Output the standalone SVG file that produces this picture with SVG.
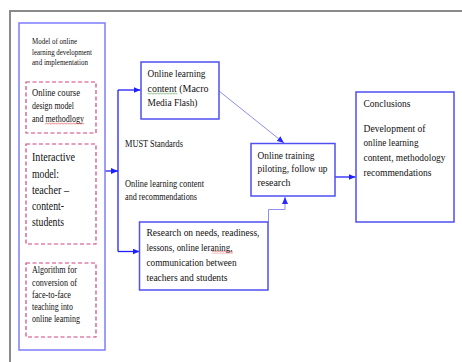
<svg xmlns="http://www.w3.org/2000/svg" width="462" height="362" viewBox="0 0 462 362">
  <style>
    text { font-family: "Liberation Serif", "Times New Roman", serif; fill: #111; }
    .box { fill: #fff; stroke: #4f4ff2; stroke-width: 1.5; }
    .panel { fill: #fff; stroke: #7d7dff; stroke-width: 1.5; }
    .dash { fill: none; stroke: #d0457f; stroke-width: 1.2; stroke-dasharray: 4 2.5; }
    .link { fill: none; stroke: #1f1fff; stroke-width: 1.3; }
    .soft { fill: none; stroke: #8f8ff2; stroke-width: 1; }
    .s8 { font-size: 8.5px; }
    .s9 { font-size: 9.5px; }
    .s10 { font-size: 10.5px; }
    .s11 { font-size: 11px; }
    .s12 { font-size: 12px; }
  </style>
  <defs>
    <marker id="arrow" markerUnits="userSpaceOnUse" markerWidth="7" markerHeight="6" refX="7" refY="3" orient="auto">
      <path d="M0,0 L7,3 L0,6 z" fill="#1f1fff"/>
    </marker>
    <marker id="arrowSoft" markerUnits="userSpaceOnUse" markerWidth="7" markerHeight="6" refX="7" refY="3" orient="auto">
      <path d="M0,0 L7,3 L0,6 z" fill="#2a2aff"/>
    </marker>
    <pattern id="wavyRed" width="3" height="2.5" patternUnits="userSpaceOnUse">
      <path d="M0,2 L1.5,0.5 L3,2" fill="none" stroke="#e03030" stroke-width="0.7"/>
    </pattern>
    <pattern id="wavyGreen" width="3" height="2.5" patternUnits="userSpaceOnUse">
      <path d="M0,2 L1.5,0.5 L3,2" fill="none" stroke="#3a9a3a" stroke-width="0.7"/>
    </pattern>
  </defs>

  <rect width="462" height="362" fill="#fff"/>
  <!-- page frame -->
  <path d="M10,362 V11 H462" fill="none" stroke="#8a8a8a" stroke-width="2"/>

  <!-- connectors -->
  <g id="connectors">
    <path class="link" d="M105,171 H118" marker-end="url(#arrow)"/>
    <path class="link" d="M118,90 V251.5"/>
    <path class="link" d="M118,90 H140.5" marker-end="url(#arrow)"/>
    <path class="link" d="M118,251.5 H139.5" marker-end="url(#arrow)"/>
    <path class="soft" d="M219,91 L284,143" marker-end="url(#arrowSoft)"/>
    <path class="soft" d="M268.5,222 V209.5 H285 V197" marker-end="url(#arrowSoft)"/>
    <path class="link" d="M335,177 H355.5" marker-end="url(#arrow)"/>
  </g>

  <!-- left panel: model of online learning -->
  <g id="model-panel">
    <rect class="panel" x="19" y="23" width="86" height="327"/>
    <text class="s8" x="32" y="44" textLength="45" lengthAdjust="spacingAndGlyphs">Model of online</text>
    <text class="s8" x="32" y="54.5" textLength="60" lengthAdjust="spacingAndGlyphs">learning development</text>
    <text class="s8" x="32" y="65" textLength="56" lengthAdjust="spacingAndGlyphs">and implementation</text>
  </g>

  <g id="course-design">
    <rect class="dash" x="26" y="82" width="70" height="51"/>
    <text class="s10" x="32" y="96" textLength="48" lengthAdjust="spacingAndGlyphs">Online course</text>
    <text class="s10" x="32" y="109" textLength="42" lengthAdjust="spacingAndGlyphs">design model</text>
    <text class="s10" x="32" y="122" textLength="52" lengthAdjust="spacingAndGlyphs">and methodlogy</text>
    <rect x="45" y="122.5" width="39" height="2.5" fill="url(#wavyRed)"/>
  </g>

  <g id="interactive-model">
    <rect class="dash" x="26" y="144" width="70" height="100"/>
    <text class="s12" x="32" y="161" textLength="43" lengthAdjust="spacingAndGlyphs">Interactive</text>
    <text class="s12" x="32" y="177.5" textLength="27" lengthAdjust="spacingAndGlyphs">model:</text>
    <text class="s12" x="32" y="193.5" textLength="37" lengthAdjust="spacingAndGlyphs">teacher –</text>
    <text class="s12" x="32" y="209.5" textLength="32" lengthAdjust="spacingAndGlyphs">content-</text>
    <text class="s12" x="32" y="225.5" textLength="32" lengthAdjust="spacingAndGlyphs">students</text>
  </g>

  <g id="algorithm">
    <rect class="dash" x="26" y="263" width="70" height="74"/>
    <text class="s9" x="32" y="273" textLength="45" lengthAdjust="spacingAndGlyphs">Algorithm for</text>
    <text class="s9" x="32" y="285.5" textLength="45" lengthAdjust="spacingAndGlyphs">conversion of</text>
    <text class="s9" x="32" y="297.5" textLength="39" lengthAdjust="spacingAndGlyphs">face-to-face</text>
    <text class="s9" x="32" y="309.5" textLength="41" lengthAdjust="spacingAndGlyphs">teaching into</text>
    <text class="s9" x="32" y="322" textLength="48" lengthAdjust="spacingAndGlyphs">online learning</text>
  </g>

  <!-- labels on the branch -->
  <g id="branch-labels">
    <text class="s9" x="125" y="147" textLength="58" lengthAdjust="spacingAndGlyphs">MUST Standards</text>
    <text class="s9" x="125" y="187" textLength="79" lengthAdjust="spacingAndGlyphs">Online learning  content</text>
    <text class="s9" x="125" y="199.5" textLength="72" lengthAdjust="spacingAndGlyphs">and recommendations</text>
  </g>

  <g id="online-content">
    <rect class="box" x="141" y="62" width="78" height="57"/>
    <text class="s11" x="147.5" y="77" textLength="58" lengthAdjust="spacingAndGlyphs">Online learning</text>
    <text class="s11" x="147.5" y="91.5" textLength="61" lengthAdjust="spacingAndGlyphs">content  (Macro</text>
    <text class="s11" x="147.5" y="105.5" textLength="50" lengthAdjust="spacingAndGlyphs">Media Flash)</text>
    <rect x="147.5" y="92.5" width="30" height="2.5" fill="url(#wavyGreen)"/>
  </g>

  <g id="research">
    <rect class="box" x="139.5" y="222" width="128.5" height="68"/>
    <text class="s11" x="146.5" y="235.5" textLength="113" lengthAdjust="spacingAndGlyphs">Research on needs, readiness,</text>
    <text class="s11" x="146.5" y="250.5" textLength="86" lengthAdjust="spacingAndGlyphs">lessons, online leraning,</text>
    <text class="s11" x="146.5" y="265.5" textLength="90" lengthAdjust="spacingAndGlyphs">communication between</text>
    <text class="s11" x="146.5" y="280.5" textLength="81" lengthAdjust="spacingAndGlyphs">teachers and students</text>
    <rect x="212" y="251" width="21" height="2.5" fill="url(#wavyRed)"/>
  </g>

  <g id="piloting">
    <rect class="box" x="251" y="143.5" width="84" height="52.5"/>
    <text class="s11" x="257.5" y="158.5" textLength="57" lengthAdjust="spacingAndGlyphs">Online training</text>
    <text class="s11" x="257.5" y="172" textLength="70" lengthAdjust="spacingAndGlyphs">piloting, follow up</text>
    <text class="s11" x="257.5" y="186" textLength="33" lengthAdjust="spacingAndGlyphs">research</text>
  </g>

  <g id="conclusions">
    <rect class="box" x="356" y="92" width="98" height="130"/>
    <text class="s11" x="363.5" y="106.5" textLength="47" lengthAdjust="spacingAndGlyphs">Conclusions</text>
    <text class="s11" x="363.5" y="131.5" textLength="62" lengthAdjust="spacingAndGlyphs">Development of</text>
    <text class="s11" x="363.5" y="146" textLength="55" lengthAdjust="spacingAndGlyphs">online learning</text>
    <text class="s11" x="363.5" y="161" textLength="82" lengthAdjust="spacingAndGlyphs">content, methodology</text>
    <text class="s11" x="363.5" y="175.5" textLength="68" lengthAdjust="spacingAndGlyphs">recommendations</text>
  </g>
</svg>
